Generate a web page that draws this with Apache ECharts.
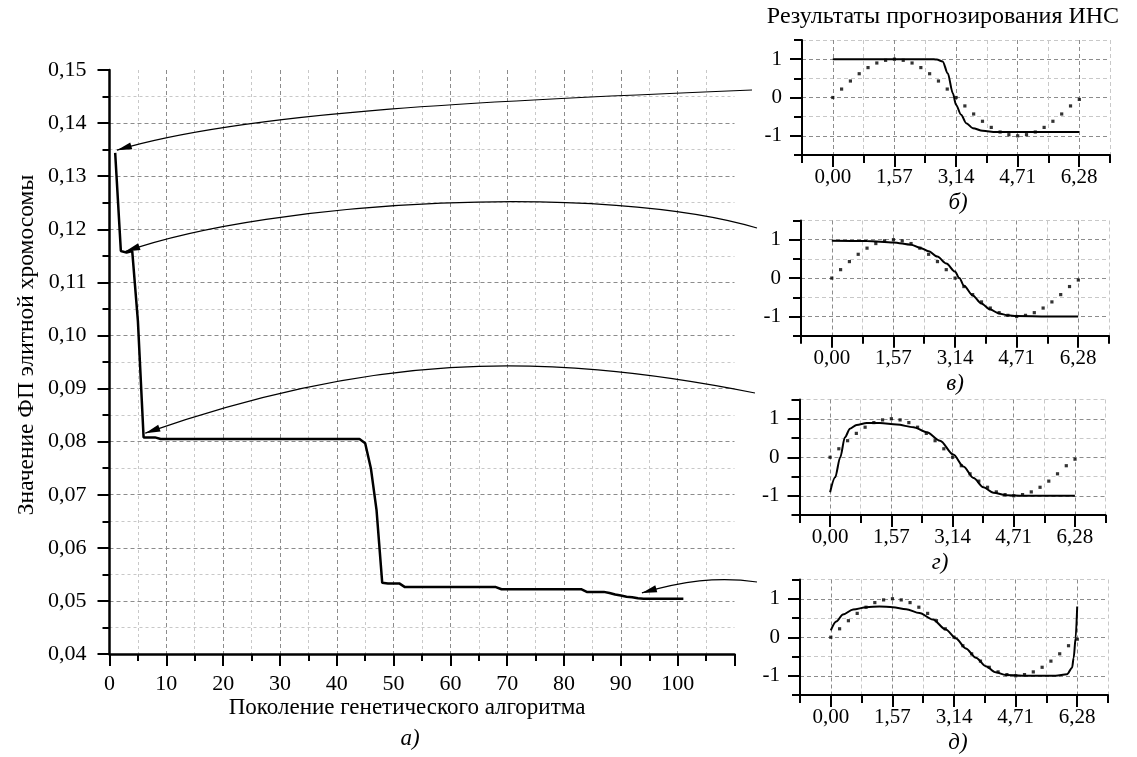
<!DOCTYPE html>
<html><head><meta charset="utf-8">
<script src="https://cdn.jsdelivr.net/npm/echarts@6/dist/echarts.min.js"></script>
<style>html,body{margin:0;padding:0;background:#fff}#c{width:1137px;height:757px}</style>
</head><body><div id="c"></div>
<script>
// ================= DATA =================
// main chart: fitness of the elite chromosome by GA generation
const genX = [1,2,3,4,5,6,8,9,44,45,46,47,48,49,51,52,68,69,83,84,87,88,89,90,91,92,93,94,101];
const fitness = [0.1344,0.1159,0.1156,0.1159,0.1027,0.0808,0.0808,0.0805,0.0805,0.0797,0.0750,0.0671,0.0534,0.0533,0.0533,0.0526,0.0526,0.0522,0.0522,0.0517,0.0517,0.0515,0.0512,0.0510,0.0508,0.0507,0.0505,0.0504,0.0504];

// target (dotted) points in the small charts
const dotX = [0,0.224,0.449,0.673,0.898,1.122,1.346,1.571,1.795,2.02,2.244,2.468,2.693,2.917,3.142,3.366,3.59,3.815,4.039,4.264,4.488,4.712,4.937,5.161,5.386,5.61,5.834,6.059,6.283];
const dotY = [0,0.22,0.43,0.62,0.78,0.9,0.97,1,0.97,0.9,0.78,0.62,0.43,0.22,0,-0.22,-0.43,-0.62,-0.78,-0.9,-0.97,-1,-0.97,-0.9,-0.78,-0.62,-0.43,-0.22,-0.05];

// ANN outputs (solid curves)
const netBX = [0,1,2,2.5,2.65,2.8,2.93,3.06,3.14,3.27,3.4,3.57,3.82,4.16,5,6.28];
const netBY = [1,1,1,1,0.99,0.94,0.63,0.11,-0.19,-0.45,-0.67,-0.8,-0.87,-0.9,-0.9,-0.9];
const netVX = [0,0.9,1.57,2.02,2.24,2.47,2.69,2.92,3.14,3.25,3.37,3.59,3.81,4.04,4.26,4.49,4.71,5.5,6.28];
const netVY = [0.97,0.965,0.93,0.87,0.79,0.7,0.56,0.38,0.17,0.0,-0.2,-0.45,-0.66,-0.82,-0.92,-0.97,-0.99,-1,-1];
const netGX = [0,0.13,0.26,0.38,0.51,0.68,0.94,1.28,1.71,2.14,2.48,2.82,3.16,3.42,3.68,3.93,4.19,4.53,4.96,6.28];
const netGY = [-0.91,-0.52,0.0,0.52,0.74,0.84,0.89,0.89,0.85,0.78,0.65,0.43,0.07,-0.24,-0.54,-0.78,-0.92,-0.99,-1,-1];
const netDX = [0,0.14,0.31,0.57,0.91,1.24,1.58,1.92,2.26,2.6,2.93,3.19,3.44,3.7,3.95,4.2,4.46,4.88,5.73,6.02,6.15,6.19,6.24,6.28];
const netDY = [0.18,0.41,0.59,0.72,0.78,0.8,0.78,0.73,0.63,0.46,0.2,-0.03,-0.29,-0.53,-0.75,-0.91,-0.98,-1,-1,-0.96,-0.79,-0.53,-0.02,0.8];

// tick labels
const smallXTickValues = [0,1.57,3.14,4.71,6.28];
const smallXTickLabels = ['0,00','1,57','3,14','4,71','6,28'];
const smallYTickValues = [-1,0,1];
const smallYTickLabels = ['-1','0','1'];

// arrow targets (generation, value) in the main chart
const arrowGen = [1.3, 2.76, 6.29, 93.7];
const arrowVal = [0.1349, 0.1158, 0.0816, 0.0515];

// texts
const titleText = 'Результаты прогнозирования ИНС';
const mainXName = 'Поколение генетического алгоритма';
const mainYName = 'Значение ФП элитной хромосомы';
const mainLetter = 'а)';

// ================= LAYOUT =================
const FONT = '"Liberation Serif", "Times New Roman", serif';
const mainGrid = {left:109.5, top:70, width:625, height:584};
const smallCharts = [
  {left:802, top:40, width:308, height:115, xs:netBX, ys:netBY, letter:'б)', lx:958, ly:203},
  {left:801, top:220.5, width:308, height:115.2, xs:netVX, ys:netVY, letter:'в)', lx:955, ly:384},
  {left:799.5, top:399.5, width:306, height:115.5, xs:netGX, ys:netGY, letter:'г)', lx:940, ly:563},
  {left:800, top:579.5, width:308, height:115.5, xs:netDX, ys:netDY, letter:'д)', lx:958, ly:743}
];
const arrowGeom = [
  {start:[752,90],  cp1:[502,100], cp2:[247,111]},
  {start:[757,228], cp1:[607,183], cp2:[275,199]},
  {start:[755,393], cp1:[535,349], cp2:[365,356]},
  {start:[757,582], cp1:[717,576], cp2:[682,581.5]}
];
const MAJOR = '#8c8c8c', MINOR = '#c8c8c8';

function fmtComma(v, d){ return v.toFixed(d).replace('.', ','); }

const grids = [], xAxes = [], yAxes = [], series = [];

// main chart
grids.push(Object.assign({outerBoundsMode:'none', containLabel:false}, mainGrid));
xAxes.push({
  gridIndex:0, type:'value', min:0, max:110, interval:10,
  axisLine:{onZero:false, lineStyle:{color:'#000', width:2.5}},
  axisTick:{length:12, lineStyle:{color:'#000', width:2}},
  minorTick:{show:true, splitNumber:2, length:7, lineStyle:{color:'#000', width:2}},
  axisLabel:{margin:19, fontFamily:FONT, fontSize:22, color:'#000',
    formatter: v => v <= 100 ? String(v) : ''},
  splitLine:{show:true, showMinLine:false, showMaxLine:false, lineStyle:{color:MAJOR, type:[4,3], width:1}},
  minorSplitLine:{show:true, lineStyle:{color:MINOR, type:[3,3], width:1}}
});
yAxes.push({
  gridIndex:0, type:'value', min:0.04, max:0.15, interval:0.01,
  axisLine:{onZero:false, lineStyle:{color:'#000', width:2.5}},
  axisTick:{length:12, lineStyle:{color:'#000', width:2}},
  minorTick:{show:true, splitNumber:2, length:7, lineStyle:{color:'#000', width:2}},
  axisLabel:{margin:23, fontFamily:FONT, fontSize:22, color:'#000',
    formatter: v => fmtComma(v, 2)},
  splitLine:{show:true, showMinLine:false, showMaxLine:false, lineStyle:{color:MAJOR, type:[4,3], width:1}},
  minorSplitLine:{show:true, lineStyle:{color:MINOR, type:[3,3], width:1}}
});
series.push({
  type:'line', xAxisIndex:0, yAxisIndex:0,
  data: genX.map((g,i)=>[g, fitness[i]]),
  symbol:'none', lineStyle:{color:'#000', width:2.5}, z:5
});

// small charts
const dotData = dotX.map((x,i)=>[x, dotY[i]]);
smallCharts.forEach((sc, i) => {
  const gP = grids.length, gS = gP + 1;
  const sx = sc.width / 7.85, sy = sc.height / 3;
  grids.push({outerBoundsMode:'none', containLabel:false, left:sc.left, top:sc.top, width:sc.width, height:sc.height});
  grids.push({outerBoundsMode:'none', containLabel:false, left:sc.left + 0.785*sx, top:sc.top + 0.5*sy, width:6.28*sx, height:2*sy});
  // primary axes: minor ticks, axis lines and grid lines
  xAxes.push({
    gridIndex:gP, type:'value', min:-0.785, max:7.065, interval:0.785,
    axisLine:{onZero:false, lineStyle:{color:'#000', width:2}},
    axisTick:{length:8, lineStyle:{color:'#000', width:2}},
    axisLabel:{show:false},
    splitLine:{show:true, showMinLine:true, showMaxLine:true, lineStyle:{color:[MINOR, MAJOR], type:[4,3], width:1}}
  });
  yAxes.push({
    gridIndex:gP, type:'value', min:-1.5, max:1.5, interval:0.5,
    axisLine:{onZero:false, lineStyle:{color:'#000', width:2}},
    axisTick:{length:8, lineStyle:{color:'#000', width:2}},
    axisLabel:{show:false},
    splitLine:{show:true, showMinLine:true, showMaxLine:true, lineStyle:{color:[MINOR, MAJOR], type:[4,3], width:1}}
  });
  // secondary axes: major ticks and labels
  xAxes.push({
    gridIndex:gS, type:'value', min:0, max:6.28, interval:1.57, position:'bottom', offset:0.5*sy,
    axisLine:{show:false, onZero:false},
    axisTick:{show:true, length:12, lineStyle:{color:'#000', width:2}},
    axisLabel:{margin:12, fontFamily:FONT, fontSize:21, color:'#000',
      formatter: v => { const k = smallXTickValues.findIndex(t => Math.abs(t - v) < 0.01); return k >= 0 ? smallXTickLabels[k] : ''; }},
    splitLine:{show:false}
  });
  yAxes.push({
    gridIndex:gS, type:'value', min:-1, max:1, interval:1, position:'left', offset:0.785*sx,
    axisLine:{show:false, onZero:false},
    axisTick:{show:true, length:12, lineStyle:{color:'#000', width:2}},
    axisLabel:{margin:20, fontFamily:FONT, fontSize:21, color:'#000',
      formatter: v => { const k = smallYTickValues.findIndex(t => Math.abs(t - v) < 0.01); return k >= 0 ? smallYTickLabels[k] : ''; }},
    splitLine:{show:false}
  });
  series.push({
    type:'scatter', xAxisIndex:gP, yAxisIndex:gP, data:dotData,
    symbol:'rect', symbolSize:3.2, itemStyle:{color:'#000'}, z:4
  });
  series.push({
    type:'line', xAxisIndex:gP, yAxisIndex:gP,
    data: sc.xs.map((x,j)=>[x, sc.ys[j]]),
    smooth:0.3, smoothMonotone:'x', symbol:'none',
    lineStyle:{color:'#000', width:2}, z:5
  });
});

// texts
const graphics = [];
function txt(text, x, y, size, italic, rot){
  graphics.push({type:'text', x:x, y:y, rotation:rot||0, z:100,
    style:{text:text, fill:'#000', font:(italic?'italic ':'')+size+'px '+FONT,
      align:'center', verticalAlign:'middle', textAlign:'center', textVerticalAlign:'middle'}});
}
txt(titleText, 943, 17, 24, false);
txt(mainXName, 407, 708, 23, false);
txt(mainLetter, 410, 739, 23, true);
txt(mainYName, 27, 345, 23.5, false, Math.PI/2);
smallCharts.forEach(sc => txt(sc.letter, sc.lx, sc.ly, 23, true));

const chart = echarts.init(document.getElementById('c'), null, {renderer:'canvas'});
chart.setOption({
  animation:false, backgroundColor:'#fff',
  grid:grids, xAxis:xAxes, yAxis:yAxes, series:series, graphic:graphics
});

// arrows pointing into the main chart
arrowGeom.forEach((a, i) => {
  const tip = chart.convertToPixel({xAxisIndex:0, yAxisIndex:0}, [arrowGen[i], arrowVal[i]]);
  graphics.push({type:'bezierCurve', z:90, silent:true,
    shape:{x1:a.start[0], y1:a.start[1], cpx1:a.cp1[0], cpy1:a.cp1[1], cpx2:a.cp2[0], cpy2:a.cp2[1], x2:tip[0], y2:tip[1]},
    style:{stroke:'#000', lineWidth:1.2, fill:'none'}});
  let dx = tip[0]-a.cp2[0], dy = tip[1]-a.cp2[1];
  const L = Math.hypot(dx, dy); dx/=L; dy/=L;
  const len = 15, hw = 3.6;
  const bx = tip[0]-dx*len, by = tip[1]-dy*len;
  graphics.push({type:'polygon', z:91, silent:true,
    shape:{points:[[tip[0],tip[1]],[bx - dy*hw, by + dx*hw],[bx + dy*hw, by - dx*hw]]},
    style:{fill:'#000', stroke:'none'}});
});
chart.setOption({graphic:graphics});
</script>
</body></html>
